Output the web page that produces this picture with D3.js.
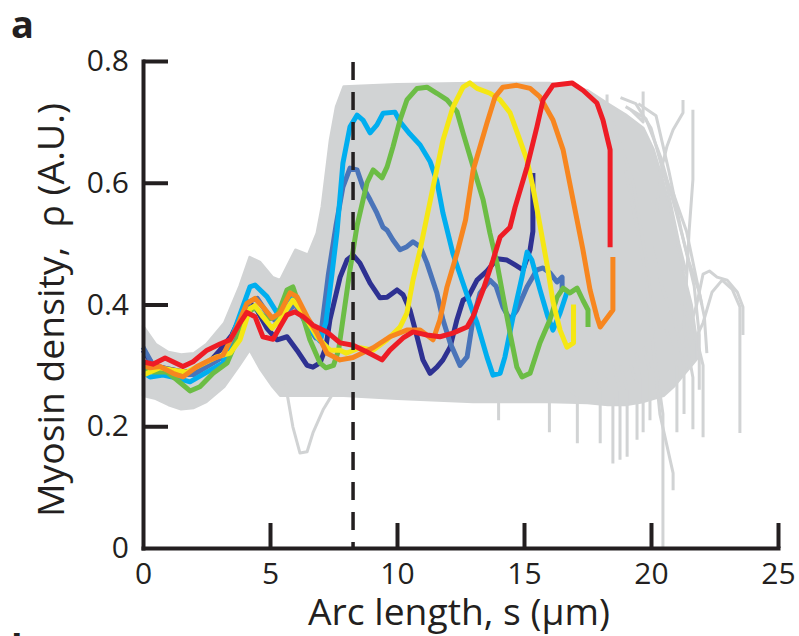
<!DOCTYPE html>
<html><head><meta charset="utf-8">
<script src="https://cdn.jsdelivr.net/npm/d3@7"></script>
<style>
body{margin:0;background:#fff}
svg{display:block}
text{font-family:"Open Sans","Noto Sans",sans-serif;fill:#231f20}
</style>
</head><body><svg id="chart" width="799" height="636"></svg>
<script>
// ---------- data ----------
const xTicks = [0, 5, 10, 15, 20, 25];
const yTicks = [0, 0.2, 0.4, 0.6, 0.8];
const yTickLabels = ["0", "0.2", "0.4", "0.6", "0.8"];
const dashedS = 8.27;

// envelope of the grey (all-cell) traces
const envS     = [0, 0.5, 1, 1.5, 2, 2.5, 3.2, 3.8, 4.2, 4.6, 5.1, 5.4, 6.0, 6.5, 6.84, 7.04, 7.36, 7.6, 7.9, 10, 13, 16, 17.5, 18.3, 19.0, 19.7, 20.1, 20.5, 20.9, 21.3, 21.6, 21.8];
const envUpper = [0.365, 0.335, 0.322, 0.318, 0.32, 0.335, 0.37, 0.43, 0.478, 0.47, 0.445, 0.44, 0.49, 0.482, 0.517, 0.561, 0.67, 0.725, 0.758, 0.762, 0.764, 0.764, 0.752, 0.73, 0.712, 0.69, 0.655, 0.6, 0.53, 0.45, 0.4, 0.34];
const envLower = [0.25, 0.245, 0.235, 0.228, 0.23, 0.24, 0.265, 0.3, 0.325, 0.295, 0.265, 0.25, 0.25, 0.25, 0.25, 0.25, 0.25, 0.25, 0.25, 0.245, 0.24, 0.24, 0.238, 0.235, 0.235, 0.24, 0.245, 0.25, 0.265, 0.285, 0.3, 0.31];

// individual grey traces visible outside the envelope [s, rho]
const greyTraces = [
  [[18.5,0.70],[19.3,0.60],[19.9,0.45],[20.2,0.30],[20.47,0.22],[20.47,0.0]],
  [[19.0,0.62],[19.8,0.45],[20.35,0.22],[20.87,0.123],[20.87,0.095]],
  [[17.4,0.30],[18.0,0.26],[18.0,0.172]],
  [[18.2,0.28],[18.5,0.25],[18.5,0.139]],
  [[18.5,0.30],[18.78,0.26],[18.78,0.145]],
  [[18.8,0.30],[19.06,0.26],[19.06,0.15]],
  [[19.2,0.30],[19.45,0.27],[19.45,0.178]],
  [[19.4,0.32],[19.69,0.28],[19.69,0.19]],
  [[19.7,0.33],[19.96,0.29],[19.96,0.21]],
  [[20.6,0.36],[21.02,0.30],[21.02,0.19]],
  [[20.2,0.55],[20.43,0.626],[20.63,0.66],[20.87,0.687],[21.26,0.715],[21.26,0.736]],
  [[21.65,0.72],[21.65,0.605],[21.5,0.52],[21.4,0.44],[21.3,0.36],[21.65,0.28],[21.65,0.195]],
  [[21.3,0.33],[21.8,0.40],[22.05,0.45],[22.3,0.455],[22.6,0.445],[23.0,0.44],[23.4,0.42],[23.62,0.396],[23.62,0.35]],
  [[21.0,0.30],[21.6,0.33],[22.05,0.37],[22.4,0.42],[22.8,0.44],[23.2,0.425],[23.5,0.396],[23.5,0.189]],
  [[21.2,0.40],[21.7,0.36],[22.05,0.30],[22.05,0.182]],
  [[19.0,0.725],[19.8,0.705],[20.4,0.64],[21.0,0.55],[21.5,0.47],[21.9,0.42],[22.1,0.38],[22.2,0.32]],
  [[19.5,0.73],[20.2,0.71],[20.7,0.62],[21.2,0.52],[21.7,0.43],[21.9,0.35],[21.9,0.26]],
  [[17.8,0.74],[18.27,0.72],[18.27,0.745]],
  [[19.2,0.72],[19.69,0.70],[19.69,0.75]],
  [[13.6,0.26],[14.0,0.25],[14.0,0.21]],
  [[15.6,0.26],[16.0,0.25],[16.0,0.19]],
  [[16.8,0.26],[17.1,0.25],[17.1,0.172]],
  [[5.2,0.30],[5.67,0.254],[5.9,0.199],[6.18,0.156],[6.46,0.158],[6.69,0.189],[7.09,0.227],[7.48,0.254],[8.0,0.27]],
  [[20.0,0.50],[20.5,0.42],[20.9,0.38],[21.3,0.30],[21.3,0.22]],
  [[18.8,0.74],[19.4,0.73],[20.0,0.69],[20.6,0.60],[21.1,0.50],[21.4,0.45]],
  [[20.4,0.62],[20.9,0.58],[21.4,0.52],[21.7,0.46],[22.0,0.40]]
];

// highlighted traces [s, rho]
const navyTrace = [[0,0.325],[0.4,0.30],[0.9,0.295],[1.5,0.29],[2.0,0.29],[2.6,0.305],[3.03,0.325],[3.5,0.35],[3.9,0.385],[4.21,0.402],[4.5,0.39],[4.88,0.361],[5.28,0.342],[5.67,0.347],[6.06,0.325],[6.46,0.30],[6.69,0.297],[6.97,0.304],[7.2,0.33],[7.36,0.375],[7.76,0.445],[8.03,0.473],[8.27,0.481],[8.54,0.468],[8.94,0.435],[9.33,0.411],[9.61,0.412],[10.0,0.424],[10.24,0.416],[10.51,0.391],[10.79,0.347],[11.02,0.309],[11.3,0.287],[11.57,0.297],[11.81,0.309],[12.09,0.33],[12.36,0.375],[12.6,0.407],[12.8,0.412],[13.15,0.44],[13.54,0.455],[13.94,0.475],[14.33,0.473],[14.65,0.465],[14.96,0.457],[15.24,0.49],[15.35,0.52],[15.35,0.616]];
const steelTrace = [[0,0.33],[0.4,0.30],[0.9,0.29],[1.5,0.285],[2.0,0.285],[2.6,0.30],[3.2,0.315],[3.7,0.355],[4.2,0.405],[4.5,0.41],[4.9,0.385],[5.3,0.37],[5.7,0.39],[6.0,0.40],[6.4,0.37],[6.8,0.345],[7.0,0.35],[7.3,0.45],[7.6,0.53],[7.87,0.593],[8.15,0.624],[8.43,0.621],[8.66,0.593],[8.94,0.572],[9.21,0.55],[9.45,0.527],[9.61,0.522],[9.84,0.506],[10.12,0.49],[10.39,0.495],[10.63,0.503],[10.91,0.495],[11.18,0.468],[11.57,0.419],[11.81,0.375],[12.09,0.337],[12.48,0.300],[12.76,0.314],[12.99,0.375],[13.27,0.419],[13.66,0.44],[13.9,0.43],[14.17,0.396],[14.45,0.375],[14.72,0.391],[15.12,0.429],[15.51,0.457],[15.75,0.46],[16.02,0.452],[16.3,0.437],[16.5,0.445],[16.5,0.424]];
const cyanTrace = [[0,0.289],[0.28,0.281],[0.79,0.284],[1.34,0.279],[1.85,0.273],[2.52,0.289],[3.15,0.304],[3.7,0.37],[4.21,0.429],[4.41,0.432],[4.88,0.413],[5.28,0.386],[5.67,0.407],[5.9,0.419],[6.3,0.38],[6.57,0.36],[6.97,0.34],[7.2,0.37],[7.44,0.45],[7.64,0.52],[7.87,0.632],[8.15,0.692],[8.43,0.711],[8.66,0.703],[8.94,0.682],[9.21,0.695],[9.45,0.714],[9.92,0.716],[10.12,0.70],[10.51,0.68],[10.91,0.662],[11.3,0.635],[11.57,0.603],[11.81,0.55],[12.2,0.484],[12.6,0.435],[13.0,0.386],[13.15,0.37],[13.54,0.314],[13.78,0.284],[14.06,0.287],[14.25,0.314],[14.57,0.38],[14.92,0.445],[15.12,0.486],[15.31,0.473],[15.63,0.424],[15.94,0.38],[16.14,0.358],[16.42,0.386],[16.69,0.42]];
const greenTrace = [[0,0.296],[0.39,0.289],[0.94,0.289],[1.34,0.276],[1.85,0.258],[2.24,0.265],[2.76,0.287],[3.31,0.304],[3.7,0.342],[4.09,0.386],[4.41,0.395],[4.88,0.375],[5.28,0.38],[5.67,0.424],[5.9,0.429],[6.3,0.38],[6.57,0.342],[6.97,0.304],[7.2,0.296],[7.5,0.30],[7.7,0.325],[7.87,0.375],[8.15,0.457],[8.43,0.53],[8.82,0.60],[9.06,0.621],[9.41,0.608],[9.61,0.626],[9.84,0.659],[10.12,0.703],[10.39,0.736],[10.79,0.755],[11.18,0.757],[11.57,0.747],[11.97,0.736],[12.36,0.717],[12.6,0.682],[13.0,0.626],[13.39,0.572],[13.66,0.517],[13.94,0.467],[14.17,0.415],[14.45,0.353],[14.72,0.297],[14.92,0.281],[15.24,0.287],[15.63,0.337],[16.02,0.375],[16.3,0.412],[16.54,0.427],[16.81,0.419],[17.09,0.427],[17.32,0.407],[17.52,0.391],[17.52,0.363]];
const yellowTrace = [[0,0.284],[0.28,0.289],[0.67,0.296],[1.18,0.292],[1.73,0.289],[2.24,0.30],[2.91,0.314],[3.43,0.32],[3.82,0.342],[4.21,0.393],[4.41,0.398],[4.72,0.38],[5.08,0.361],[5.39,0.375],[5.9,0.407],[6.3,0.386],[6.85,0.347],[7.36,0.325],[7.76,0.325],[8.0,0.32],[8.54,0.329],[9.06,0.325],[9.61,0.342],[10.12,0.363],[10.39,0.386],[10.63,0.44],[10.91,0.49],[11.42,0.593],[11.81,0.67],[12.2,0.724],[12.6,0.757],[12.87,0.764],[13.15,0.755],[13.66,0.747],[14.06,0.736],[14.45,0.715],[14.84,0.67],[15.12,0.637],[15.35,0.593],[15.63,0.53],[15.91,0.465],[16.14,0.405],[16.42,0.358],[16.69,0.33],[16.95,0.337],[16.95,0.40]];
const orangeTrace = [[0,0.30],[0.28,0.296],[0.67,0.298],[1.18,0.287],[1.57,0.281],[2.13,0.298],[2.64,0.309],[3.15,0.317],[3.7,0.363],[4.09,0.402],[4.41,0.41],[4.72,0.396],[5.08,0.378],[5.39,0.386],[5.79,0.419],[6.06,0.413],[6.46,0.38],[6.85,0.353],[7.24,0.32],[7.76,0.309],[8.27,0.313],[9.06,0.329],[9.72,0.347],[10.39,0.358],[10.91,0.358],[11.42,0.342],[11.69,0.375],[11.97,0.429],[12.36,0.484],[12.7,0.539],[13.0,0.621],[13.54,0.698],[13.86,0.741],[14.17,0.757],[14.72,0.76],[15.24,0.755],[15.63,0.741],[16.14,0.703],[16.54,0.654],[16.93,0.572],[17.32,0.49],[17.6,0.424],[17.87,0.38],[18.0,0.363],[18.5,0.391],[18.5,0.478]];
const redTrace = [[0,0.306],[0.39,0.302],[0.87,0.312],[1.57,0.298],[1.97,0.306],[2.52,0.325],[3.03,0.335],[3.43,0.342],[3.82,0.37],[4.09,0.387],[4.41,0.38],[4.72,0.347],[5.12,0.343],[5.39,0.363],[5.67,0.383],[5.98,0.388],[6.3,0.38],[6.69,0.366],[7.24,0.355],[7.76,0.337],[8.27,0.333],[8.82,0.322],[9.41,0.309],[9.72,0.325],[10.24,0.345],[10.63,0.355],[11.18,0.35],[11.69,0.347],[12.2,0.353],[12.76,0.363],[12.99,0.38],[13.39,0.424],[13.78,0.473],[14.06,0.511],[14.45,0.527],[14.65,0.56],[15.12,0.626],[15.51,0.692],[15.75,0.736],[16.14,0.76],[16.89,0.764],[17.32,0.752],[17.87,0.731],[18.11,0.703],[18.39,0.654],[18.39,0.494]];

const highlightColors = ["#2e3192", "#4a74b9", "#00aeef", "#6cbd45", "#f5e714", "#f7861f", "#ee1c25"];
const highlightTraces = [navyTrace, steelTrace, cyanTrace, greenTrace, yellowTrace, orangeTrace, redTrace];

// ---------- drawing ----------
const svg = d3.select("#chart");
const x = d3.scaleLinear().domain([0, 25]).range([143, 778]);
const y = d3.scaleLinear().domain([0, 0.8]).range([548, 61]);
const ink = "#231f20", grey = "#d1d3d4";

const env = envS.map((s, i) => ({s, lo: envLower[i], hi: envUpper[i]}));
svg.append("path").datum(env)
  .attr("fill", grey).attr("stroke", grey).attr("stroke-width", 2.5).attr("stroke-linejoin", "round")
  .attr("d", d3.area().x(d => x(d.s)).y0(d => y(d.lo)).y1(d => y(d.hi)));

const line = d3.line().x(d => x(d[0])).y(d => y(d[1]));
svg.append("g").selectAll("path").data(greyTraces).join("path")
  .attr("d", line).attr("fill", "none").attr("stroke", grey)
  .attr("stroke-width", 3).attr("stroke-linejoin", "round");

svg.append("g").selectAll("path").data(highlightTraces).join("path")
  .attr("d", line).attr("fill", "none")
  .attr("stroke", (d, i) => highlightColors[i])
  .attr("stroke-width", 5).attr("stroke-linejoin", "round");

// dashed marker
svg.append("line")
  .attr("x1", x(dashedS)).attr("x2", x(dashedS))
  .attr("y1", y(0.8) + 1).attr("y2", y(0))
  .attr("stroke", ink).attr("stroke-width", 3.5).attr("stroke-dasharray", "18,12");

// axes
const fs = 30;
const yAxis = svg.append("g").attr("transform", `translate(${x(0)},0)`)
  .call(d3.axisLeft(y).tickValues(yTicks).tickFormat((d, i) => yTickLabels[i])
        .tickSizeInner(-25).tickSizeOuter(0).tickPadding(14));
const xAxis = svg.append("g").attr("transform", `translate(0,${y(0)})`)
  .call(d3.axisBottom(x).tickValues(xTicks).tickFormat(d3.format("d"))
        .tickSizeInner(-25).tickSizeOuter(0).tickPadding(15));
[yAxis, xAxis].forEach(g => {
  g.select(".domain").attr("stroke", ink).attr("stroke-width", 4).attr("stroke-linecap", "square");
  g.selectAll(".tick line").attr("stroke", ink).attr("stroke-width", 4);
  g.selectAll(".tick text").attr("fill", ink).style("font-size", fs + "px")
    .style("font-family", '"Open Sans","Noto Sans",sans-serif');
});
xAxis.selectAll(".tick").filter(d => d === 0).select("line").remove();
yAxis.selectAll(".tick").filter(d => d === 0).select("line").remove();

// titles, sized to the reference's extents
function fitText(sel, target, size) {
  sel.style("font-size", size + "px");
  const w = sel.node().getComputedTextLength();
  sel.style("font-size", (size * target / w) + "px");
}
const xt = svg.append("text").attr("x", 459).attr("y", 625).attr("text-anchor", "middle")
  .text("Arc length, s (µm)");
fitText(xt, 302, 32);
const yt = svg.append("text").attr("transform", "translate(64,310) rotate(-90)")
  .attr("text-anchor", "middle").style("white-space", "pre")
  .text("Myosin density,  ρ (A.U.)");
fitText(yt, 414, 32);

svg.append("text").attr("x", 11).attr("y", 38).style("font-size", "38px").style("font-weight", "bold").text("a");
svg.append("text").attr("x", 11).attr("y", 662).style("font-size", "38px").style("font-weight", "bold").text("b");
</script></body></html>
